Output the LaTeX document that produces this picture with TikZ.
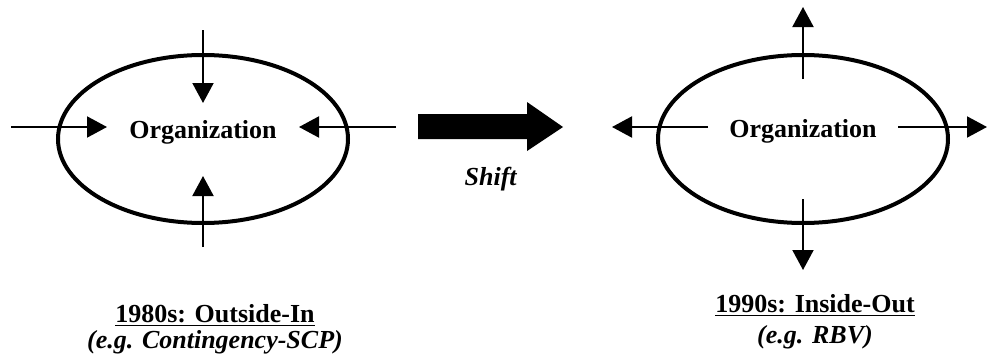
\documentclass[tikz,border=0pt]{standalone}
\usepackage{fontspec}
\setmainfont{Liberation Serif}
\usetikzlibrary{arrows.meta,shapes.geometric}

\begin{document}
\begin{tikzpicture}[
    x=0.5pt, y=-0.5pt,
    org/.style={ellipse, draw, line width=2pt, minimum width=145pt, minimum height=84pt, inner sep=0pt},
    txt/.style={font=\fontsize{13}{15}\selectfont\bfseries, inner sep=0pt, anchor=base},
    force/.style={-{Triangle[length=10pt,width=10.5pt]}, line width=1pt}
  ]
  \useasboundingbox (0,0) rectangle (987,364);

  % 1980s: forces pointing in
  \node[org] (orgin) at (203,139) {};
  \node[txt] (namein) at (203,138) {Organization};
  \coordinate (inW) at (11,127);   \coordinate (inWtip) at (107,127);
  \coordinate (inE) at (396,127);  \coordinate (inEtip) at (299,127);
  \coordinate (inN) at (203,30);   \coordinate (inNtip) at (203,103);
  \coordinate (inS) at (203,247);  \coordinate (inStip) at (203,176);
  \draw[force] (inW) -- (inWtip);
  \draw[force] (inE) -- (inEtip);
  \draw[force] (inN) -- (inNtip);
  \draw[force] (inS) -- (inStip);
  \node[txt] (erain) at (215,322) {\underline{1980s: Outside-In}};
  \node[txt] (egin) at (215,348) {\textit{(e.g. Contingency-SCP)}};

  % shift
  \fill (418,114) -- (527,114) -- (527,102) -- (563,127) -- (527,151) -- (527,139) -- (418,139) -- cycle;
  \node[txt] (shift) at (491,185) {\textit{Shift}};

  % 1990s: forces pointing out
  \node[org] (orgout) at (803,139) {};
  \node[txt] (nameout) at (803,137) {Organization};
  \coordinate (outW) at (708,127); \coordinate (outWtip) at (612,127);
  \coordinate (outE) at (898,127); \coordinate (outEtip) at (987,127);
  \coordinate (outN) at (803,79);  \coordinate (outNtip) at (803,7);
  \coordinate (outS) at (803,199); \coordinate (outStip) at (803,270);
  \draw[force] (outW) -- (outWtip);
  \draw[force] (outE) -- (outEtip);
  \draw[force] (outN) -- (outNtip);
  \draw[force] (outS) -- (outStip);
  \node[txt] (eraout) at (815,312) {\underline{1990s: Inside-Out}};
  \node[txt] (egout) at (815,343) {\textit{(e.g. RBV)}};
\end{tikzpicture}
\end{document}
